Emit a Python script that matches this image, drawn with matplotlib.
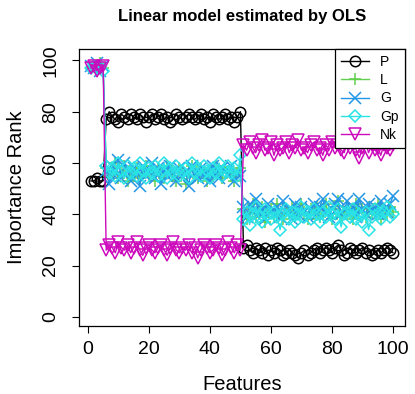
import numpy as np
import matplotlib
matplotlib.use("Agg")
import matplotlib.pyplot as plt

plt.rcParams['font.family'] = ['Liberation Sans', 'DejaVu Sans']

features = np.arange(1, 101)

# rangs moyens d'importance par feature
P = [53, 53, 54, 53, 53, 77, 80, 78, 77, 76,
     79, 78, 77, 79, 78, 77, 79, 78, 76, 78,
     79, 77, 78, 79, 77, 78, 76, 77, 79, 78,
     77, 78, 79, 78, 77, 78, 79, 77, 78, 76,
     79, 78, 77, 78, 79, 77, 78, 76, 78, 80,
     27, 28, 26, 25, 27, 26, 25, 27, 24, 26,
     25, 27, 26, 24, 25, 26, 25, 24, 23, 25,
     26, 24, 25, 26, 27, 25, 26, 27, 26, 25,
     27, 28, 26, 24, 25, 27, 26, 25, 26, 27,
     25, 26, 24, 25, 26, 25, 26, 27, 26, 25]

L = [97, 98, 96, 99, 97, 58, 55, 57, 60, 54,
     56, 59, 53, 57, 55, 58, 54, 56, 59, 55,
     57, 53, 58, 56, 54, 59, 57, 55, 53, 58,
     56, 52, 57, 59, 55, 54, 58, 56, 53, 57,
     55, 59, 56, 54, 58, 57, 55, 53, 56, 58,
     42, 38, 41, 44, 39, 40, 43, 37, 41, 42,
     39, 44, 40, 38, 42, 41, 43, 39, 40, 44,
     41, 38, 42, 40, 43, 39, 41, 44, 40, 38,
     42, 45, 39, 41, 43, 40, 38, 44, 41, 42,
     39, 43, 40, 41, 44, 38, 42, 40, 43, 41]

G = [98, 97, 99, 96, 98, 57, 52, 59, 55, 61,
     54, 60, 57, 53, 58, 56, 51, 59, 55, 57,
     60, 54, 58, 52, 57, 55, 59, 56, 53, 58,
     55, 57, 51, 59, 56, 54, 58, 55, 57, 53,
     59, 56, 54, 58, 57, 55, 59, 53, 56, 55,
     43, 39, 44, 41, 46, 40, 42, 38, 44, 41,
     40, 43, 39, 45, 41, 42, 38, 44, 40, 43,
     41, 39, 42, 44, 40, 43, 46, 41, 39, 42,
     44, 46, 40, 42, 45, 41, 43, 39, 46, 42,
     40, 44, 41, 43, 40, 45, 42, 41, 44, 47]

Gp = [97, 98, 97, 98, 96, 59, 56, 58, 55, 60,
      57, 54, 59, 56, 58, 55, 60, 57, 54, 58,
      56, 59, 55, 57, 60, 54, 58, 56, 59, 55,
      57, 58, 54, 60, 56, 58, 55, 59, 57, 54,
      58, 56, 60, 55, 57, 59, 56, 58, 55, 63,
      38, 41, 36, 40, 43, 39, 37, 42, 40, 38,
      41, 39, 34, 40, 42, 38, 41, 37, 40, 43,
      39, 41, 38, 42, 40, 37, 41, 39, 43, 40,
      38, 42, 35, 40, 41, 39, 42, 38, 40, 37,
      41, 34, 39, 42, 40, 38, 41, 43, 39, 40]

Nk = [97, 98, 96, 97, 98, 26, 28, 27, 25, 29,
      27, 26, 28, 25, 27, 29, 26, 24, 27, 28,
      26, 25, 27, 28, 26, 24, 27, 29, 26, 25,
      27, 26, 28, 25, 27, 23, 26, 28, 27, 25,
      26, 28, 27, 24, 26, 29, 27, 25, 28, 26,
      67, 65, 68, 66, 64, 67, 69, 65, 66, 68,
      63, 67, 65, 66, 68, 64, 67, 66, 69, 65,
      66, 64, 67, 68, 65, 66, 63, 67, 65, 68,
      66, 67, 65, 64, 68, 66, 67, 65, 62, 66,
      68, 64, 67, 65, 66, 63, 67, 66, 65, 67]

series = [P, L, G, Gp, Nk]
noms = ["P", "L", "G", "Gp", "Nk"]
couleurs = ["black", "#61D04F", "#2297E6", "#28E2E5", "#CD0BBC"]
marqueurs = ["o", "+", "x", "D", "v"]
tailles = [7.5, 8.5, 8, 6, 8.5]

fig = plt.figure(figsize=(4.15, 3.94), dpi=100)
ax = fig.add_axes([0.190, 0.173, 0.786, 0.703])

for y, nom, c, m, s in zip(series, noms, couleurs, marqueurs, tailles):
    ax.plot(features, y, color=c, marker=m, markersize=s, markerfacecolor='none',
            markeredgecolor=c, markeredgewidth=1.1, lw=1, label=nom)

ax.set_xlim(-2.96, 103.96)
ax.set_ylim(-3.5, 104.5)
ax.set_xticks([0, 20, 40, 60, 80, 100])
ax.set_yticks([0, 20, 40, 60, 80, 100])
ax.tick_params(labelsize=14, length=5, width=0.8, direction='out')
ax.tick_params(axis='x', pad=6)
ax.tick_params(axis='y', pad=9)
for lab in ax.get_yticklabels():
    lab.set_rotation(90)
    lab.set_va('center')
for sp in ax.spines.values():
    sp.set_linewidth(0.9)

ax.set_xlabel("Features", fontsize=14.5, labelpad=12)
ax.set_ylabel("Importance Rank", fontsize=14.5, labelpad=12)
ax.set_title("Linear model estimated by OLS", fontsize=12, fontweight='bold', pad=20)

leg = ax.legend(loc='upper right', borderaxespad=0, fontsize=10, handlelength=2,
                handletextpad=0.8, labelspacing=0.3, borderpad=0.45, fancybox=False,
                framealpha=1, edgecolor='black')
leg.get_frame().set_linewidth(0.9)

plt.savefig("out.png", dpi=100)
